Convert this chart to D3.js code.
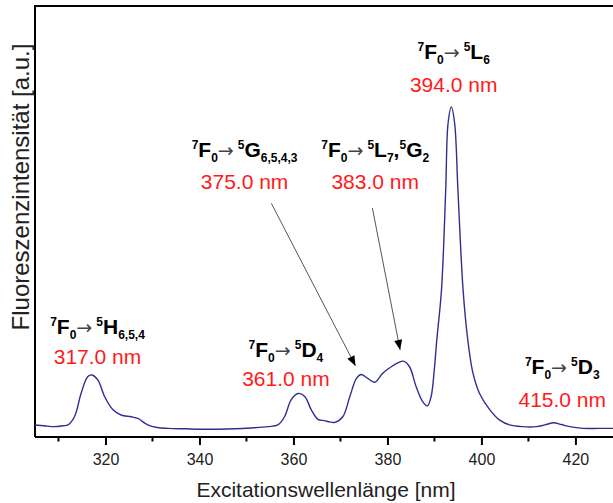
<!DOCTYPE html>
<html>
<head>
<meta charset="utf-8">
<script src="https://cdn.jsdelivr.net/npm/d3@7"></script>
<style>
  html, body { margin: 0; padding: 0; background: #fff; }
  svg { display: block; font-family: "Liberation Sans", Arial, sans-serif; }
</style>
</head>
<body>
<svg id="plot" width="613" height="503"></svg>
<script>

// spectrum (nm, a.u.)
const WAVELENGTH = [305.0, 307.0, 309.0, 311.0, 312.0, 313.4, 314.8, 316.2, 317.1, 318.4, 319.8,
    321.6, 323.3, 325.5, 326.9, 329.0, 331.0, 333.3, 337.0, 340.4, 344.0, 347.5, 351.0,
    354.6, 356.7, 358.1, 359.5, 361.0, 362.4, 363.8, 365.2, 366.6, 367.7, 368.8, 370.5,
    372.0, 373.4, 374.4, 375.8, 377.3, 379.0, 380.8, 382.2, 383.4, 384.7, 386.1, 387.5,
    388.5, 389.3, 390.0, 390.5, 391.5, 392.4, 392.9, 393.6, 394.3, 395.0, 396.1, 397.1,
    398.2, 399.6, 401.8, 403.9, 406.0, 408.8, 411.7, 413.5, 415.4, 417.0, 418.8, 421.6,
    425.0, 428.0];
const INTENSITY = [2.8, 2.6, 2.4, 2.6, 2.8, 4.7, 10.1, 14.0, 14.4, 13.2, 9.4,
    6.3, 5.1, 4.7, 4.3, 2.8, 2.2, 2.0, 1.9, 1.8, 1.8, 1.9, 2.1,
    2.4, 2.8, 4.7, 8.6, 10.1, 9.4, 6.3, 4.1, 3.8, 3.5, 3.4, 4.7,
    9.4, 13.6, 14.5, 13.6, 12.7, 14.8, 16.3, 17.2, 17.6, 16.3, 11.7, 8.2,
    7.2, 9.4, 16.0, 22.5, 34.1, 57.3, 72.8, 76.6, 72.8, 57.3, 34.1, 22.5,
    14.8, 10.1, 6.3, 3.9, 2.8, 2.4, 2.4, 2.8, 3.3, 2.9, 2.4, 2.0,
    2.0, 2.0];

const MAJOR_TICKS = [320, 340, 360, 380, 400, 420];
const MINOR_TICKS = [310, 330, 350, 370, 390, 410, 430];

// transitions 7F0 -> final states, one entry per peak
const PEAK_NM = [317.0, 361.0, 375.0, 383.0, 394.0, 415.0];
const FINAL_STATES = [
    [['5', 'H', '6,5,4']],
    [['5', 'D', '4']],
    [['5', 'G', '6,5,4,3']],
    [['5', 'L', '7'], ['5', 'G', '2']],
    [['5', 'L', '6']],
    [['5', 'D', '3']]
];

const X_TITLE = 'Excitationswellenlänge [nm]';
const Y_TITLE = 'Fluoreszenzintensität [a.u.]';

// where the labels sit (nm for x, a.u. for baselines)
const LABEL_X = [318.3, 358.4, 349.6, 377.4, 394.1, 417.2];
const LABEL_TERM_Y = [23.9, 18.5, 65.0, 65.0, 87.6, 14.6];
const LABEL_NM_Y = [17.0, 11.9, 57.5, 57.5, 80.0, 7.0];
// arrows for the two labels that are set away from their peak: [x0, y0, x1, y1]
const ARROWS = [[355.3, 54.2, 373.2, 16.5], [376.8, 53.1, 382.7, 20.2]];

const svg = d3.select('#plot');

const x = d3.scaleLinear().domain([305, 428]).range([35, 613]);
const y = d3.scaleLinear().domain([0, 100]).range([437, 6]);

// frame (right side runs out of the picture)
svg.append('path')
    .attr('d', `M${x(440)},${y(100)}H${x(305)}V${y(0)}`)
    .attr('fill', 'none')
    .attr('stroke', '#000')
    .attr('stroke-width', 2);

const xAxis = svg.append('g')
    .attr('transform', `translate(0,${y(0)})`)
    .call(d3.axisBottom(x).tickValues(MAJOR_TICKS).tickSize(8).tickSizeOuter(0).tickPadding(8.5));
xAxis.select('.domain').attr('stroke-width', 2).attr('d', `M${x(305)},0H${x(440)}`);
xAxis.selectAll('.tick line').attr('stroke-width', 2);
xAxis.selectAll('.tick text')
    .attr('font-size', 16)
    .attr('font-family', '"Liberation Sans", Arial, sans-serif')
    .attr('fill', '#222');

svg.append('g')
    .selectAll('line')
    .data(MINOR_TICKS)
    .join('line')
    .attr('x1', d => x(d)).attr('x2', d => x(d))
    .attr('y1', y(0)).attr('y2', y(0) + 4.5)
    .attr('stroke', '#000')
    .attr('stroke-width', 2);

// titles
svg.append('text')
    .attr('x', 326).attr('y', 497)
    .attr('text-anchor', 'middle')
    .attr('font-size', 21)
    .attr('fill', '#222')
    .text(X_TITLE);

svg.append('text')
    .attr('transform', 'translate(29,187) rotate(-90)')
    .attr('text-anchor', 'middle')
    .attr('font-size', 24)
    .attr('fill', '#222')
    .text(Y_TITLE);

// spectrum
const points = WAVELENGTH.map((w, i) => ({ w: w, v: INTENSITY[i] }));
svg.append('path')
    .datum(points)
    .attr('fill', 'none')
    .attr('stroke', '#2f2f93')
    .attr('stroke-width', 1.4)
    .attr('d', d3.line().x(d => x(d.w)).y(d => y(d.v)).curve(d3.curveCatmullRom.alpha(0.5)));

// arrows
svg.append('defs').append('marker')
    .attr('id', 'head')
    .attr('markerUnits', 'userSpaceOnUse')
    .attr('viewBox', '0 0 10 8')
    .attr('refX', 10).attr('refY', 4)
    .attr('markerWidth', 11).attr('markerHeight', 8)
    .attr('orient', 'auto')
    .append('path')
    .attr('d', 'M0,0L10,4L0,8Z')
    .attr('fill', '#000');

svg.append('g')
    .selectAll('line')
    .data(ARROWS)
    .join('line')
    .attr('x1', d => x(d[0])).attr('y1', d => y(d[1]))
    .attr('x2', d => x(d[2])).attr('y2', d => y(d[3]))
    .attr('stroke', '#555')
    .attr('stroke-width', 1)
    .attr('marker-end', 'url(#head)');

// term symbol labels like 7F0 -> 5L6
function addTerm(text, parts) {
    let shift = 0;
    const piece = (str, size, weight, offset, fill, family) => {
        const s = text.append('tspan')
            .attr('dy', offset - shift)
            .attr('font-size', size)
            .attr('font-weight', weight)
            .attr('fill', fill || '#000')
            .text(str);
        if (family) s.attr('font-family', family);
        shift = offset;
    };
    piece('7', 12, 'bold', -8);
    piece('F', 21, 'bold', 0);
    piece('0', 12, 'bold', 5);
    piece('\u2192', 19, 'normal', 0, '#444', '"DejaVu Sans", sans-serif');
    piece('\u2009', 20, 'normal', 0);
    parts.forEach((p, i) => {
        if (i > 0) piece(',', 21, 'bold', 0);
        piece(p[0], 12, 'bold', -8);
        piece(p[1], 21, 'bold', 0);
        piece(p[2], 12, 'bold', 5);
    });
    piece('', 12, 'bold', 0);
}

PEAK_NM.forEach((nm, i) => {
    const t = svg.append('text')
        .attr('x', x(LABEL_X[i]))
        .attr('y', y(LABEL_TERM_Y[i]))
        .attr('text-anchor', 'middle');
    addTerm(t, FINAL_STATES[i]);

    svg.append('text')
        .attr('x', x(LABEL_X[i]))
        .attr('y', y(LABEL_NM_Y[i]))
        .attr('text-anchor', 'middle')
        .attr('font-size', 21)
        .attr('fill', '#ff1a1a')
        .text(nm.toFixed(1) + ' nm');
});
</script>
</body>
</html>
